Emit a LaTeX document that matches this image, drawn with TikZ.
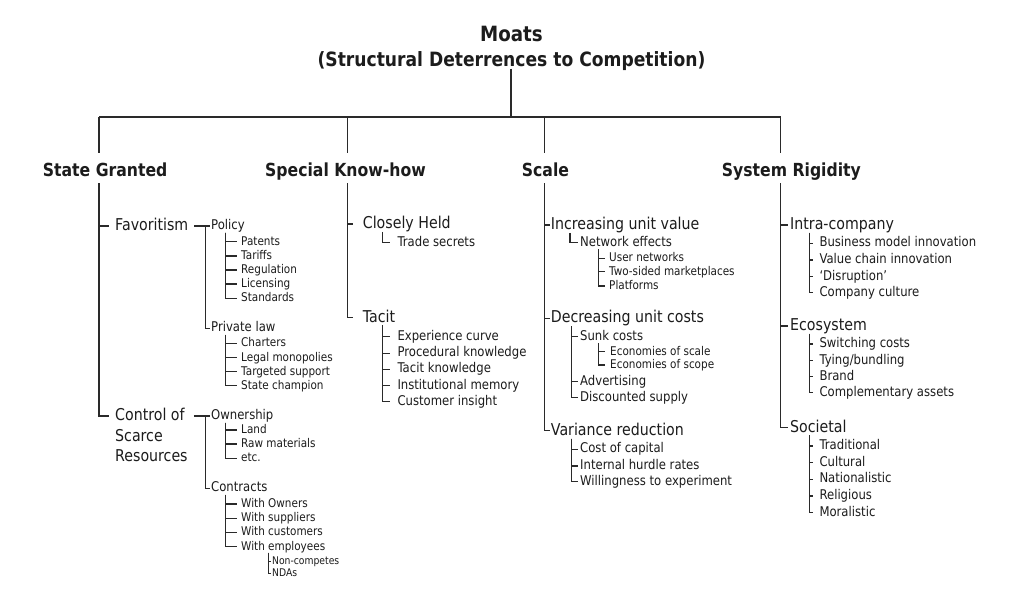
\documentclass[tikz,border=0pt]{standalone}
\usepackage{fontspec}
\setmainfont{DejaVu Sans}[FakeStretch=0.87]
\definecolor{linec}{HTML}{2A2A2A}
\definecolor{textc}{HTML}{1C1C1C}
\begin{document}
\begin{tikzpicture}[x=1pt,y=-1pt,
  every node/.style={text=textc},
  ln/.style={draw=linec, line width=1.3pt},
  ttl/.style={anchor=base, inner sep=0pt, font=\bfseries\fontsize{21}{25}\selectfont},
  sttl/.style={anchor=base, inner sep=0pt, font=\bfseries\fontsize{19.7}{23}\selectfont},
  hd/.style={anchor=base west, inner sep=0pt, font=\bfseries\fontsize{18}{21}\selectfont},
  lvA/.style={anchor=west, inner ysep=0pt, font=\fontsize{16.3}{20.5}\selectfont, text height=12.2pt, text depth=3.2pt},
  lvB/.style={anchor=west, inner ysep=0pt, font=\fontsize{13.4}{16}\selectfont, text height=10pt, text depth=2.7pt},
  lvC/.style={anchor=west, inner ysep=0pt, font=\fontsize{12}{14}\selectfont, text height=9pt, text depth=2.4pt},
  lvD/.style={anchor=west, inner ysep=0pt, font=\fontsize{10.6}{12.5}\selectfont, text height=8pt, text depth=2.1pt}]
\useasboundingbox[fill=white] (0,0) rectangle (1029,600);

% ---- title and top level ----
\node[ttl] (moats) at (511.5,41.7) {Moats};
\node[sttl] (sub) at (511.5,66.7) {(Structural Deterrences to Competition)};
\coordinate (tA) at (511,68.5);
\coordinate (bar) at (511,117);
\coordinate (sgA) at (99,117);     \coordinate (sgB) at (99,152.5);
\coordinate (khA) at (347.7,117);  \coordinate (khB) at (347.7,152.5);
\coordinate (scA) at (544.3,117);  \coordinate (scB) at (544.3,152.5);
\coordinate (srA) at (780.5,117);  \coordinate (srB) at (780.5,152.5);
\draw[ln] (tA) -- (bar);
\draw[ln] (sgA) -- (srA);
\draw[ln] (sgA) -- (sgB);
\draw[ln] (khA) -- (khB);
\draw[ln] (scA) -- (scB);
\draw[ln] (srA) -- (srB);

\node[hd] (sg) at (42.7,176) {State Granted};
\node[hd] (kh) at (265,176) {Special Know-how};
\node[hd] (sc) at (521.7,176) {Scale};
\node[hd] (sr) at (721.7,176) {System Rigidity};

\coordinate (sgS) at (99,183.3);
\coordinate (khS) at (347.7,183.3);
\coordinate (scS) at (544.3,183.3);
\coordinate (srS) at (780.5,183.3);

% ---- State Granted ----
\node[lvA, inner xsep=6pt] (fav) at (109,226) {Favoritism};
\node[lvA, inner xsep=6pt] (ctrl) at (109,416) {\begin{tabular}[t]{@{}l@{}}Control of\\Scarce\\Resources\end{tabular}};
\foreach \c in {fav,ctrl} \draw[ln] (sgS) |- (\c.west);

\node[lvB, inner xsep=1pt] (pol) at (210,226) {Policy};
\node[lvB, inner xsep=1pt] (plaw) at (210,328.3) {Private law};
\draw[ln] (fav.east) -- (pol.west);
\draw[ln] ([xshift=-4.3pt]pol.west) |- (plaw.west);

\node[lvC, inner xsep=4pt] (pat) at (237,241.7) {Patents};
\node[lvC, inner xsep=4pt] (tar) at (237,256) {Tariffs};
\node[lvC, inner xsep=4pt] (reg) at (237,270) {Regulation};
\node[lvC, inner xsep=4pt] (lic) at (237,284) {Licensing};
\node[lvC, inner xsep=4pt] (std) at (237,298.3) {Standards};
\foreach \c in {pat,tar,reg,lic,std} \draw[ln] ([xshift=15.7pt]pol.south west) |- (\c.west);

\node[lvC, inner xsep=4pt] (cha) at (237,343.3) {Charters};
\node[lvC, inner xsep=4pt] (lmo) at (237,357.7) {Legal monopolies};
\node[lvC, inner xsep=4pt] (tsu) at (237,371.7) {Targeted support};
\node[lvC, inner xsep=4pt] (sch) at (237,385.7) {State champion};
\foreach \c in {cha,lmo,tsu,sch} \draw[ln] ([xshift=15.7pt]plaw.south west) |- (\c.west);

\node[lvB, inner xsep=1pt] (own) at (210,416) {Ownership};
\node[lvB, inner xsep=1pt] (con) at (210,488.3) {Contracts};
\draw[ln] (ctrl.east) -- (own.west);
\draw[ln] ([xshift=-4.3pt]own.west) |- (con.west);

\node[lvC, inner xsep=4pt] (land) at (237,430) {Land};
\node[lvC, inner xsep=4pt] (raw) at (237,444) {Raw materials};
\node[lvC, inner xsep=4pt] (etc) at (237,458.3) {etc.};
\foreach \c in {land,raw,etc} \draw[ln] ([xshift=15.7pt]own.south west) |- (\c.west);

\node[lvC, inner xsep=4pt] (wown) at (237,504) {With Owners};
\node[lvC, inner xsep=4pt] (wsup) at (237,518.3) {With suppliers};
\node[lvC, inner xsep=4pt] (wcus) at (237,532.3) {With customers};
\node[lvC, inner xsep=4pt] (wemp) at (237,546.7) {With employees};
\foreach \c in {wown,wsup,wcus,wemp} \draw[ln] ([xshift=15.7pt]con.south west) |- (\c.west);

\node[lvD, inner xsep=1pt] (ncp) at (271,561.7) {Non-competes};
\node[lvD, inner xsep=1pt] (nda) at (271,573.3) {NDAs};
\foreach \c in {ncp,nda} \draw[ln] ([xshift=31.3pt]wemp.south west) |- (\c.west);

% ---- Special Know-how ----
\node[lvA, inner xsep=9.4pt] (clo) at (353.3,224) {Closely Held};
\node[lvA, inner xsep=9.4pt] (tac) at (353.3,317.5) {Tacit};
\foreach \c in {clo,tac} \draw[ln] (khS) |- (\c.west);

\node[lvB, inner xsep=7.3pt] (trs) at (390,242.7) {Trade secrets};
\draw[ln] ([xshift=29.4pt]clo.south west) |- (trs.west);

\node[lvB, inner xsep=7.3pt] (exc) at (390,336.7) {Experience curve};
\node[lvB, inner xsep=7.3pt] (prk) at (390,353.3) {Procedural knowledge};
\node[lvB, inner xsep=7.3pt] (tak) at (390,369.3) {Tacit knowledge};
\node[lvB, inner xsep=7.3pt] (inm) at (390,385.7) {Institutional memory};
\node[lvB, inner xsep=7.3pt] (cui) at (390,401.7) {Customer insight};
\foreach \c in {exc,prk,tak,inm,cui} \draw[ln] ([xshift=29.4pt]tac.south west) |- (\c.west);

% ---- Scale ----
\node[lvA, inner xsep=1.2pt] (iuv) at (549.5,225) {Increasing unit value};
\node[lvA, inner xsep=1.2pt] (duc) at (549.5,318.3) {Decreasing unit costs};
\node[lvA, inner xsep=1.2pt] (var) at (549.5,430.7) {Variance reduction};
\foreach \c in {iuv,duc,var} \draw[ln] (scS) |- (\c.west);

\node[lvB, inner xsep=1.7pt] (net) at (578.3,242.7) {Network effects};
\draw[ln] ([xshift=20.5pt]iuv.south west) |- (net.west);

\node[lvC, inner xsep=4pt] (usn) at (605,258.3) {User networks};
\node[lvC, inner xsep=4pt] (tsm) at (605,271.7) {Two-sided marketplaces};
\node[lvC, inner xsep=4pt] (plt) at (605,286) {Platforms};
\foreach \c in {usn,tsm,plt} \draw[ln] ([xshift=20pt]net.south west) |- (\c.west);

\node[lvB, inner xsep=1.7pt] (snk) at (578.3,336.7) {Sunk costs};
\node[lvB, inner xsep=1.7pt] (adv) at (578.3,381.7) {Advertising};
\node[lvB, inner xsep=1.7pt] (dsu) at (578.3,397.5) {Discounted supply};
\foreach \c in {snk,adv,dsu} \draw[ln] ([xshift=22.2pt]duc.south west) |- (\c.west);

\node[lvC, inner xsep=5pt] (eosc) at (605,351.7) {Economies of scale};
\node[lvC, inner xsep=5pt] (eosp) at (605,365) {Economies of scope};
\foreach \c in {eosc,eosp} \draw[ln] ([xshift=20pt]snk.south west) |- (\c.west);

\node[lvB, inner xsep=1.7pt] (coc) at (578.3,449.3) {Cost of capital};
\node[lvB, inner xsep=1.7pt] (ihr) at (578.3,466) {Internal hurdle rates};
\node[lvB, inner xsep=1.7pt] (wte) at (578.3,481.7) {Willingness to experiment};
\foreach \c in {coc,ihr,wte} \draw[ln] ([xshift=22.2pt]var.south west) |- (\c.west);

% ---- System Rigidity ----
\node[lvA, inner xsep=1.7pt] (intra) at (788.3,225) {Intra-company};
\node[lvA, inner xsep=1.7pt] (eco) at (788.3,326) {Ecosystem};
\node[lvA, inner xsep=1.7pt] (soc) at (788.3,427.5) {Societal};
\foreach \c in {intra,eco,soc} \draw[ln] (srS) |- (\c.west);

\node[lvB, inner xsep=6pt] (bmi) at (813.3,243.3) {Business model innovation};
\node[lvB, inner xsep=6pt] (vci) at (813.3,260) {Value chain innovation};
\node[lvB, inner xsep=6pt] (dis) at (813.3,276.7) {`Disruption'};
\node[lvB, inner xsep=6pt] (ccu) at (813.3,292.7) {Company culture};
\foreach \c in {bmi,vci,dis,ccu} \draw[ln] ([xshift=21pt]intra.south west) |- (\c.west);

\node[lvB, inner xsep=6pt] (swc) at (813.3,344) {Switching costs};
\node[lvB, inner xsep=6pt] (tyb) at (813.3,360.7) {Tying/bundling};
\node[lvB, inner xsep=6pt] (brd) at (813.3,376.7) {Brand};
\node[lvB, inner xsep=6pt] (cas) at (813.3,392.7) {Complementary assets};
\foreach \c in {swc,tyb,brd,cas} \draw[ln] ([xshift=21pt]eco.south west) |- (\c.west);

\node[lvB, inner xsep=6pt] (tra) at (813.3,446) {Traditional};
\node[lvB, inner xsep=6pt] (cul) at (813.3,462.7) {Cultural};
\node[lvB, inner xsep=6pt] (nat) at (813.3,479.3) {Nationalistic};
\node[lvB, inner xsep=6pt] (rel) at (813.3,496) {Religious};
\node[lvB, inner xsep=6pt] (mor) at (813.3,512.7) {Moralistic};
\foreach \c in {tra,cul,nat,rel,mor} \draw[ln] ([xshift=21pt]soc.south west) |- (\c.west);
\end{tikzpicture}
\end{document}
